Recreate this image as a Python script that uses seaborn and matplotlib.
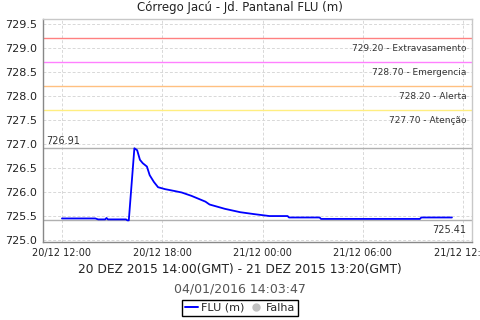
import matplotlib
matplotlib.use("Agg")
import matplotlib.pyplot as plt
import matplotlib.dates as mdates
from matplotlib.lines import Line2D
import seaborn as sns
import pandas as pd

times = ["2015-12-20 12:00", "2015-12-20 14:00", "2015-12-20 14:10", "2015-12-20 14:35",
         "2015-12-20 14:40", "2015-12-20 14:45", "2015-12-20 15:50", "2015-12-20 15:55",
         "2015-12-20 16:00", "2015-12-20 16:20", "2015-12-20 16:30", "2015-12-20 16:40",
         "2015-12-20 16:50", "2015-12-20 17:05", "2015-12-20 17:15", "2015-12-20 17:30",
         "2015-12-20 17:45", "2015-12-20 18:10", "2015-12-20 18:45", "2015-12-20 19:10",
         "2015-12-20 19:45", "2015-12-20 20:35", "2015-12-20 20:50", "2015-12-20 21:45",
         "2015-12-20 22:40", "2015-12-20 23:30", "2015-12-21 00:25", "2015-12-21 01:30",
         "2015-12-21 01:35", "2015-12-21 03:25", "2015-12-21 03:30", "2015-12-21 09:25",
         "2015-12-21 09:30", "2015-12-21 11:20"]
flu = [725.45, 725.45, 725.43, 725.43,
       725.46, 725.43, 725.43, 725.41,
       725.41, 726.91, 726.87, 726.67,
       726.60, 726.53, 726.35, 726.21,
       726.10, 726.06, 726.02, 725.99,
       725.92, 725.80, 725.74, 725.65,
       725.58, 725.54, 725.50, 725.50,
       725.47, 725.47, 725.44, 725.44,
       725.47, 725.47]

threshold_values = [729.20, 728.70, 728.20, 727.70]
threshold_names = ["Extravasamento", "Emergencia", "Alerta", "Atenção"]
threshold_colors = ["#ff8080", "#ff80ff", "#ffc080", "#ffee80"]

max_value = 726.91
min_value = 725.41

title = "Córrego Jacú - Jd. Pantanal FLU (m)"
xlabel = "20 DEZ 2015 14:00(GMT) - 21 DEZ 2015 13:20(GMT)"
timestamp = "04/01/2016 14:03:47"

df = pd.DataFrame({"time": pd.to_datetime(times), "flu": flu})

sns.set_theme(style="whitegrid")
plt.rcParams["font.family"] = ["DejaVu Sans"]

fig = plt.figure(figsize=(4.8, 3.2), dpi=100)
ax = fig.add_axes([43 / 480, 1 - 242 / 320, (472 - 43) / 480, (242 - 19) / 320])

for v, name, c in zip(threshold_values, threshold_names, threshold_colors):
    ax.axhline(v, color=c, lw=1.0, zorder=1)
    ax.annotate(f"{v:.2f} - {name}", xy=(1, v), xycoords=("axes fraction", "data"),
                xytext=(-4, -4), textcoords="offset points", ha="right", va="top",
                fontsize=6.5, color="#333333")

ax.axhline(max_value, color="#b0b0b0", lw=1.0, zorder=1)
ax.annotate(f"{max_value:.2f}", xy=(0, max_value), xycoords=("axes fraction", "data"),
            xytext=(2, 2), textcoords="offset points", ha="left", va="bottom",
            fontsize=7, color="#333333")
ax.axhline(min_value, color="#b0b0b0", lw=1.0, zorder=1)
ax.annotate(f"{min_value:.2f}", xy=(1, min_value), xycoords=("axes fraction", "data"),
            xytext=(-4, -3), textcoords="offset points", ha="right", va="top",
            fontsize=7, color="#333333")

sns.lineplot(data=df, x="time", y="flu", ax=ax, color="#0000ff", lw=1.3, zorder=3)

ax.set_ylim(724.96, 729.6)
ax.set_xlim(pd.Timestamp("2015-12-20 10:52"), pd.Timestamp("2015-12-21 12:32"))
ax.set_yticks([725.0, 725.5, 726.0, 726.5, 727.0, 727.5, 728.0, 728.5, 729.0, 729.5])
ax.yaxis.set_major_formatter(matplotlib.ticker.FormatStrFormatter("%.1f"))
ax.xaxis.set_major_locator(mdates.HourLocator(byhour=[0, 6, 12, 18]))
ax.xaxis.set_major_formatter(mdates.DateFormatter("%d/%m %H:%M"))

ax.grid(True, color="#d8d8d8", ls=(0, (3, 2)), lw=0.7)
ax.set_facecolor("white")
for s in ["top", "right"]:
    ax.spines[s].set_color("#c8c8c8")
    ax.spines[s].set_linewidth(1.0)
for s in ["left", "bottom"]:
    ax.spines[s].set_color("#888888")
    ax.spines[s].set_linewidth(1.0)
ax.tick_params(axis="y", labelsize=8, length=2, color="#888888", pad=2, labelcolor="#222222")
ax.tick_params(axis="x", labelsize=7, length=2, color="#888888", pad=2, labelcolor="#222222")
ax.set_xlabel("")
ax.set_ylabel("")

fig.text(0.5, 1 - 8 / 320, title, ha="center", va="center", fontsize=8.5, color="#222222")
fig.text(0.5, 1 - 269 / 320, xlabel, ha="center", va="center", fontsize=8.8, color="#222222")
fig.text(0.5, 1 - 289 / 320, timestamp, ha="center", va="center", fontsize=9, color="#555555")

handles = [Line2D([0], [0], color="#0000ff", lw=1.4),
           Line2D([0], [0], color="#c0c0c0", marker="o", lw=0, markersize=5)]
leg = fig.legend(handles, ["FLU (m)", "Falha"], loc="center", bbox_to_anchor=(0.5, 1 - 308 / 320),
                 ncol=2, fontsize=8, frameon=True, fancybox=False, handlelength=1.2,
                 handletextpad=0.3, columnspacing=0.4, borderpad=0.25)
leg.get_frame().set_edgecolor("black")
leg.get_frame().set_linewidth(1.0)
leg.get_frame().set_alpha(1)

fig.savefig("out.png", dpi=100, facecolor="white")
